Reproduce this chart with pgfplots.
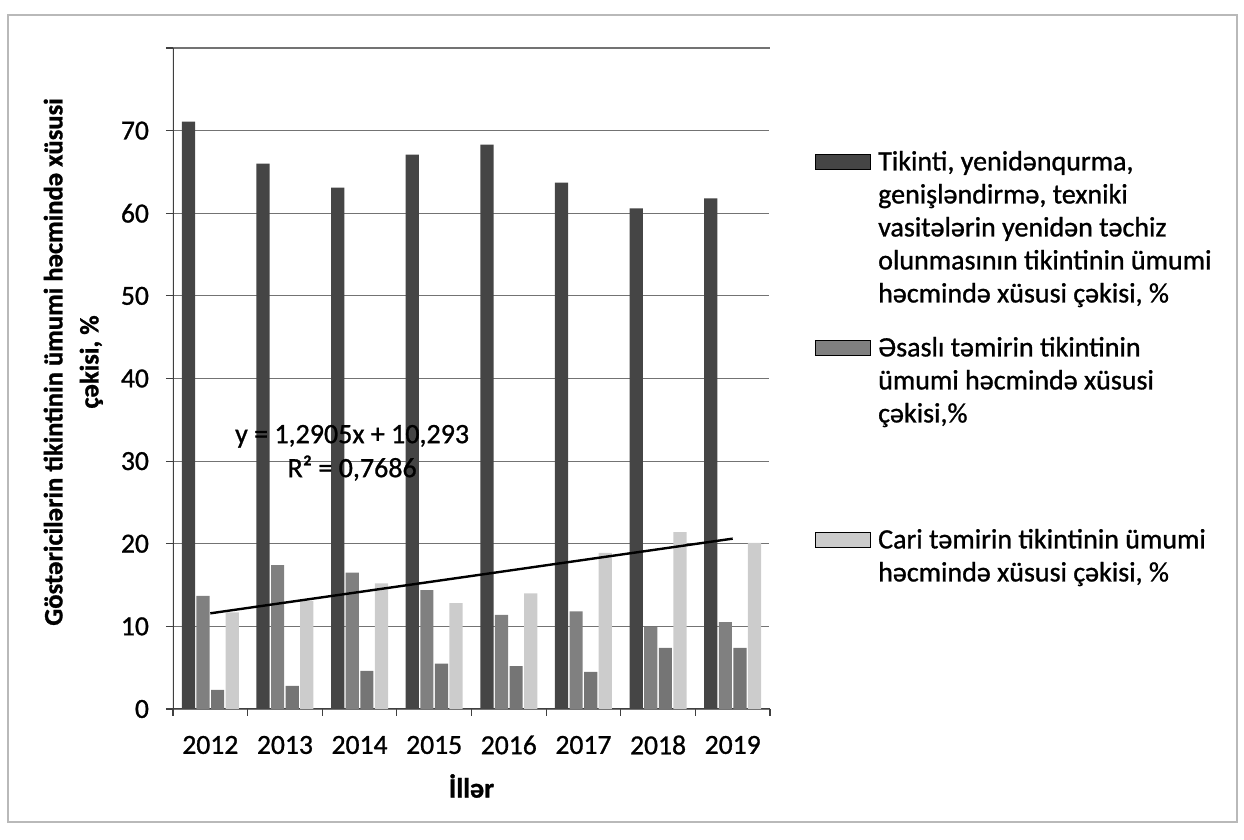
\documentclass[border=0pt]{standalone}
\usepackage{fontspec}
\setmainfont{Carlito}
\newfontfamily\txt{Carlito}[FakeBold=1.0]
\usepackage{pgfplots}
\pgfplotsset{compat=1.18}
\definecolor{cA}{gray}{0.27}
\definecolor{cB}{gray}{0.50}
\definecolor{cC}{gray}{0.46}
\definecolor{cD}{gray}{0.80}
\newcommand\ls{\rule{0pt}{15pt}}
\begin{document}
\begin{tikzpicture}
\begin{axis}[
  name=ax,
  scale only axis, width=298.5pt, height=330.5pt,
  ybar, bar width=6.6pt,
  xmin=0.5, xmax=8.5, ymin=0, ymax=80,
  xtick={0.5,1.5,...,8.5}, xticklabels={},
  extra x ticks={1,2,3,4,5,6,7,8},
  extra x tick labels={2012,2013,2014,2015,2016,2017,2018,2019},
  extra x tick style={major tick length=0pt, grid=none,
     xticklabel style={anchor=center, yshift=-18pt}},
  ytick={0,10,...,80},
  yticklabels={0,10,20,30,40,50,60,70,},
  xtick pos=bottom, ytick pos=left,
  axis line style={draw=none},
  ymajorgrids,
  grid style={black!55, line width=0.6pt},
  tick align=outside,
  major tick length=3.5pt,
  tick style={black!75, line width=0.6pt},
  /pgf/number format/assume math mode=true,
  tick label style={font=\txt\fontsize{13.8}{17}\selectfont},
  yticklabel style={xshift=-5pt},
  xlabel={İllər},
  xlabel style={font=\txt\bfseries\fontsize{14}{17}\selectfont, at={(axis description cs:0.5,-0.1165)}, anchor=center},
  ylabel={Göstəricilərin tikintinin ümumi həcmində xüsusi\\çəkisi, \%},
  ylabel style={font=\txt\bfseries\fontsize{13.3}{18}\selectfont, align=center, at={(axis description cs:-0.167,0.525)}, anchor=center},
  legend image code/.code={\draw[#1] (0pt,0.5pt) rectangle (27.5pt,8pt);},
  legend style={draw=none, fill=none, at={(1.0754,0.8608)}, anchor=north west,
    font=\txt\fontsize{14}{17}\selectfont, inner sep=0pt, row sep=0pt,
    nodes={inner sep=0pt},
    cells={anchor=base west},
    /tikz/every odd column/.append style={column sep=3.5pt}},
]
\coordinate (corner) at (rel axis cs:0,0);
\coordinate (se) at (rel axis cs:1,0);
\coordinate (ne) at (rel axis cs:1,1);
\draw[black!75, line width=0.6pt] (rel axis cs:0,1) -- (rel axis cs:0,0) -- (rel axis cs:1,0);
\addplot[fill=cA, draw=none, bar shift=-10.95pt, forget plot] coordinates {(1,71.1) (2,66.0) (3,63.1) (4,67.1) (5,68.3) (6,63.7) (7,60.6) (8,61.8)};
\addplot[fill=cB, draw=none, bar shift=-3.65pt, forget plot] coordinates {(1,13.7) (2,17.4) (3,16.5) (4,14.4) (5,11.4) (6,11.8) (7,9.9) (8,10.5)};
\addplot[fill=cC, draw=none, bar shift=3.65pt, forget plot] coordinates {(1,2.3) (2,2.8) (3,4.6) (4,5.5) (5,5.2) (6,4.5) (7,7.4) (8,7.4)};
\addplot[fill=cD, draw=none, bar shift=10.95pt, forget plot] coordinates {(1,11.7) (2,13.1) (3,15.2) (4,12.8) (5,14.0) (6,18.9) (7,21.4) (8,20.1)};
\addplot[black, line width=1.2pt, sharp plot, bar shift=0pt, forget plot] coordinates {(1,11.58) (8,20.62)};
\node[font=\txt\fontsize{14}{17}\selectfont, align=center] at (axis cs:2.9,31.0) {y = 1,2905x + 10,293\\R² = 0,7686};
\addlegendimage{fill=cA, draw=none}
\addlegendentry{\ls Tikinti, yenidənqurma,}
\addlegendimage{empty legend}
\addlegendentry{\ls genişləndirmə, texniki}
\addlegendimage{empty legend}
\addlegendentry{\ls vasitələrin yenidən təchiz}
\addlegendimage{empty legend}
\addlegendentry{\ls olunmasının tikintinin ümumi}
\addlegendimage{empty legend}
\addlegendentry{\ls həcmində xüsusi çəkisi, \%}
\addlegendimage{empty legend}
\addlegendentry{\rule{0pt}{9pt}}
\addlegendimage{fill=cB, draw=none}
\addlegendentry{\ls Əsaslı təmirin tikintinin}
\addlegendimage{empty legend}
\addlegendentry{\ls ümumi həcmində xüsusi}
\addlegendimage{empty legend}
\addlegendentry{\ls çəkisi,\%}
\addlegendimage{empty legend}
\addlegendentry{\rule{0pt}{45pt}}
\addlegendimage{fill=cD, draw=none}
\addlegendentry{\ls Cari təmirin tikintinin ümumi}
\addlegendimage{empty legend}
\addlegendentry{\ls həcmində xüsusi çəkisi, \%}
\end{axis}
\fill[white] ([shift={(-0.3pt,1pt)}]se) rectangle ([shift={(3pt,-1pt)}]ne);
\pgfresetboundingbox
\useasboundingbox ([shift={(-86.5pt,-65.5pt)}]corner) rectangle ++(622pt,420pt);
\draw[gray!55, line width=0.6pt] ([shift={(-82.5pt,-56.5pt)}]corner) rectangle ([shift={(532pt,347pt)}]corner);
\end{tikzpicture}
\end{document}
